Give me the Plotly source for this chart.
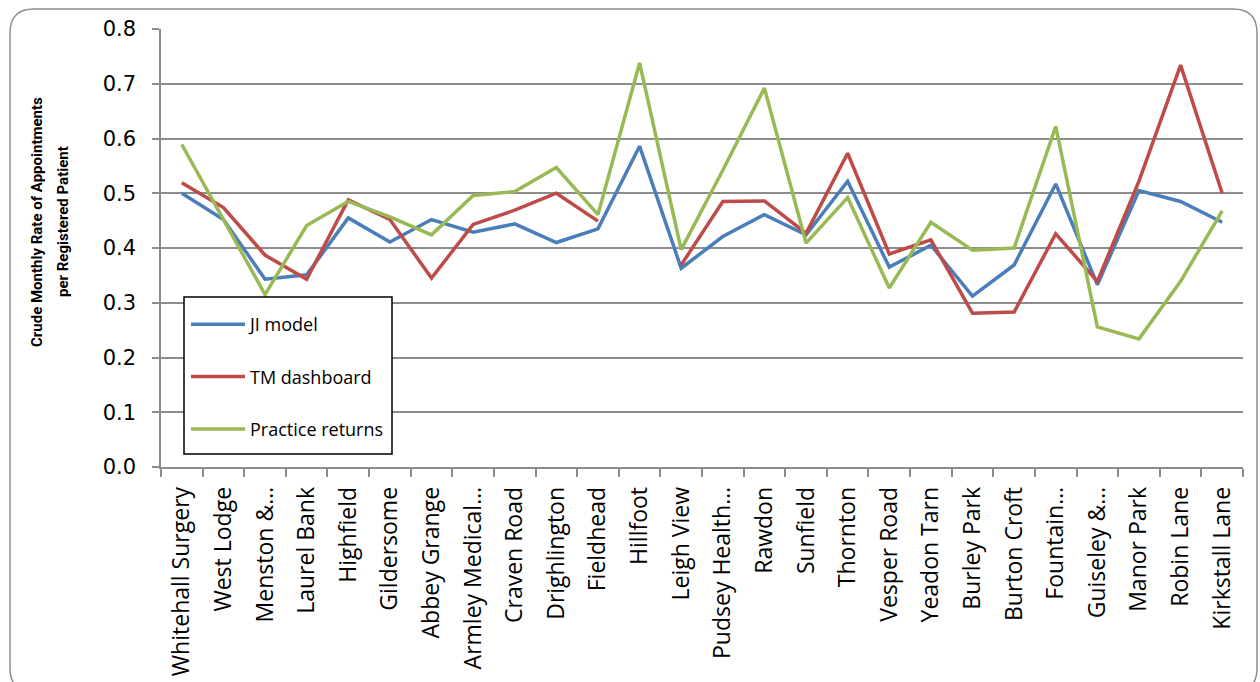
import plotly.graph_objects as go

categories = ["Whitehall Surgery", "West Lodge", "Menston &…", "Laurel Bank", "Highfield",
              "Gildersome", "Abbey Grange", "Armley Medical…", "Craven Road", "Drighlington",
              "Fieldhead", "Hillfoot", "Leigh View", "Pudsey Health…", "Rawdon", "Sunfield",
              "Thornton", "Vesper Road", "Yeadon Tarn", "Burley Park", "Burton Croft",
              "Fountain…", "Guiseley &…", "Manor Park", "Robin Lane", "Kirkstall Lane"]

ji_model = [0.500, 0.452, 0.343, 0.351, 0.455, 0.411, 0.452, 0.429, 0.444, 0.410,
            0.435, 0.586, 0.363, 0.421, 0.461, 0.424, 0.522, 0.365, 0.405, 0.312,
            0.369, 0.517, 0.333, 0.505, 0.485, 0.447]

tm_dashboard = [0.519, 0.474, 0.387, 0.343, 0.488, 0.452, 0.345, 0.443, 0.469, 0.500,
                0.449, None, 0.369, 0.485, 0.486, 0.427, 0.573, 0.389, 0.415, 0.281,
                0.283, 0.426, 0.339, 0.522, 0.734, 0.500]

practice_returns = [0.589, 0.452, 0.315, 0.441, 0.485, 0.457, 0.424, 0.496, 0.503, 0.547,
                    0.461, 0.738, 0.397, 0.542, 0.692, 0.409, 0.492, 0.327, 0.447, 0.396,
                    0.400, 0.622, 0.256, 0.234, 0.339, 0.468]

y_ticks = [0.0, 0.1, 0.2, 0.3, 0.4, 0.5, 0.6, 0.7, 0.8]

series = [("JI model", ji_model, "#4A7EBB"),
          ("TM dashboard", tm_dashboard, "#BE4B48"),
          ("Practice returns", practice_returns, "#98B954")]

W, H = 1260, 682
L, R, T, B = 161, 17, 29, 215
pw, ph = W - L - R, H - T - B

def px(x):
    return (x - L) / pw

def py(y):
    return (H - B - y) / ph

fig = go.Figure()
for i, (name, vals, color) in enumerate(series):
    fig.add_trace(go.Scatter(
        x=categories, y=vals, mode="lines", name=name,
        line=dict(color=color, width=3.5), connectgaps=False,
        legendgroup=f"g{i}",
    ))

# rounded chart border
x0, x1, y0, y1, r = 10, 1257, 9, 692, 24
path = (f"M {px(x0 + r)} {py(y0)} L {px(x1 - r)} {py(y0)} "
        f"Q {px(x1)} {py(y0)} {px(x1)} {py(y0 + r)} "
        f"L {px(x1)} {py(y1 - r)} Q {px(x1)} {py(y1)} {px(x1 - r)} {py(y1)} "
        f"L {px(x0 + r)} {py(y1)} Q {px(x0)} {py(y1)} {px(x0)} {py(y1 - r)} "
        f"L {px(x0)} {py(y0 + r)} Q {px(x0)} {py(y0)} {px(x0 + r)} {py(y0)} Z")

title_font = dict(family="Roboto", size=15, color="black")

fig.update_layout(
    width=W, height=H,
    margin=dict(l=L, r=R, t=T, b=B, pad=0, autoexpand=False),
    paper_bgcolor="white", plot_bgcolor="white",
    font=dict(family="Open Sans", color="black"),
    shapes=[
        dict(type="path", path=path, xref="paper", yref="paper",
             line=dict(color="#8C8C8C", width=1.5), layer="below"),
        dict(type="rect", xref="paper", yref="paper",
             x0=px(184), x1=px(392), y0=py(297), y1=py(454),
             fillcolor="white", line=dict(color="black", width=1.5), layer="above"),
    ],
    showlegend=True,
    legend=dict(
        x=px(186), y=py(306), xanchor="left", yanchor="top",
        bgcolor="rgba(0,0,0,0)", borderwidth=0,
        font=dict(family="Open Sans", size=18, color="black"),
        traceorder="grouped", tracegroupgap=26, itemwidth=54,
    ),
    annotations=[
        dict(text="<b>Crude Monthly Rate of Appointments</b>",
             x=px(37), y=py(222), xref="paper", yref="paper",
             textangle=-90, showarrow=False, xanchor="center", yanchor="middle",
             font=title_font),
        dict(text="<b>per Registered Patient</b>",
             x=px(63), y=py(222), xref="paper", yref="paper",
             textangle=-90, showarrow=False, xanchor="center", yanchor="middle",
             font=title_font),
    ],
)

fig.update_xaxes(
    type="category", range=[-0.5, len(categories) - 0.5], automargin=False,
    showgrid=False, showline=True, linecolor="#8C8C8C", linewidth=1.5,
    ticks="outside", tickson="boundaries", ticklen=8, tickcolor="#8C8C8C", tickwidth=1.5,
    tickangle=-90, ticklabelstandoff=9,
    tickfont=dict(family="Open Sans", size=23, color="black"),
)
fig.update_yaxes(
    range=[0, 0.8], tickvals=y_ticks, tickformat=".1f", automargin=False,
    showgrid=True, gridcolor="#8C8C8C", gridwidth=1.5, zeroline=False,
    showline=True, linecolor="#8C8C8C", linewidth=1.5,
    ticks="outside", ticklen=7, tickcolor="#8C8C8C", tickwidth=1.5,
    ticklabelstandoff=12,
    tickfont=dict(family="DejaVu Sans", size=21, color="black"),
)

fig.write_html("out.html")
